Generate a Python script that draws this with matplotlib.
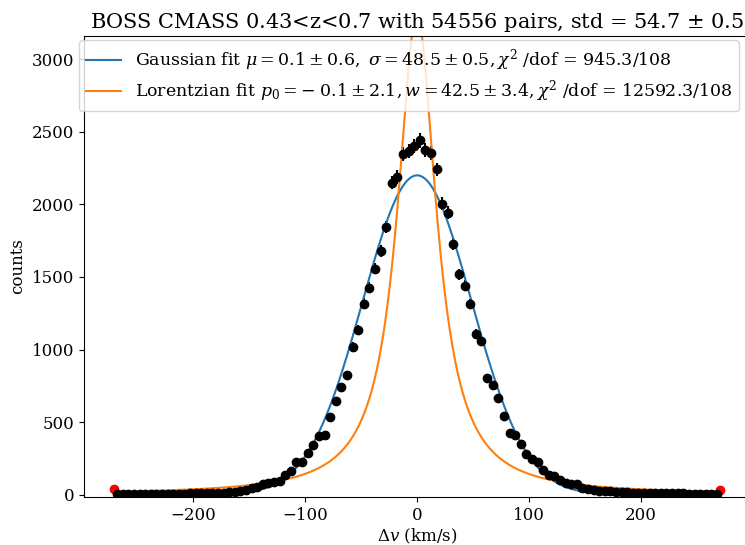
import numpy as np
import matplotlib
matplotlib.use("Agg")
import matplotlib.pyplot as plt

plt.rcParams['font.family'] = ['DejaVu Serif']
plt.rcParams['mathtext.fontset'] = 'dejavuserif'
plt.rcParams['font.size'] = 12

# velocity-difference histogram, 5 km/s bins
bin_centres = np.arange(-267.5, 270, 5)
counts = np.array([
    3, 4, 3, 4, 5, 4, 5, 6, 5, 6, 7, 7, 8, 9, 10, 9, 11, 12, 14, 15,
    16, 20, 27, 34, 46, 55, 71, 78, 89, 96,
    138, 160, 227, 222, 284, 344, 406, 413, 537, 647,
    745, 826, 1018, 1133, 1317, 1427, 1558, 1679, 1844, 2150,
    2188, 2345, 2367, 2402,
    2441, 2372, 2356, 2241, 2005, 1943, 1730, 1519, 1438, 1312,
    1106, 1060, 803, 757, 663, 545, 424, 408, 346, 282,
    248, 224, 172, 137, 132, 103, 80, 71, 76, 48,
    41, 33, 28, 25, 22, 20,
    18, 17, 15, 14, 14, 12, 12, 11, 10, 10, 9, 9, 8, 8, 7, 7, 6, 6,
])
errors = np.sqrt(counts)

# edge points outside the fitted range
edge_v = [-270, 270]
edge_counts = [40, 35]

# fit results
gauss_amp, gauss_mu, gauss_sigma = 2200, 0.1, 48.5
lor_amp, lor_p0, lor_w = 3300, -0.1, 42.5

v = np.linspace(-270, 270, 1000)
gauss = gauss_amp * np.exp(-(v - gauss_mu)**2 / (2 * gauss_sigma**2))
lorentz = lor_amp / (1 + ((v - lor_p0) / (lor_w / 2))**2)

fig = plt.figure(figsize=(7.45, 5.45), dpi=100)
ax = fig.add_axes([84/745, 48/545, 666/745, 461/545])

ax.plot(edge_v, edge_counts, 'o', color='red')
ax.errorbar(bin_centres, counts, yerr=errors, fmt='o', color='black')
ax.plot(v, gauss, label=r'Gaussian fit $\mu = 0.1 \pm 0.6,\ \sigma = 48.5 \pm 0.5, \chi^2$ /dof = 945.3/108')
ax.plot(v, lorentz, label=r'Lorentzian fit $p_0 = -\;0.1 \pm 2.1, w = 42.5 \pm 3.4, \chi^2$ /dof = 12592.3/108')

ax.set_xlim(-297, 297)
ax.set_ylim(-16, 3160)
ax.set_xticks([-200, -100, 0, 100, 200])
ax.set_xlabel(r'$\Delta v$ (km/s)', labelpad=2)
ax.set_ylabel('counts')
ax.set_title('BOSS CMASS 0.43<z<0.7 with 54556 pairs, std = 54.7 $\\pm$ 0.5', fontsize=15)
ax.legend(loc='upper center', bbox_to_anchor=(0.488, 1.0), fontsize=12.5,
          labelspacing=0.3, borderaxespad=0.25)

fig.savefig('out.png', dpi=100)
